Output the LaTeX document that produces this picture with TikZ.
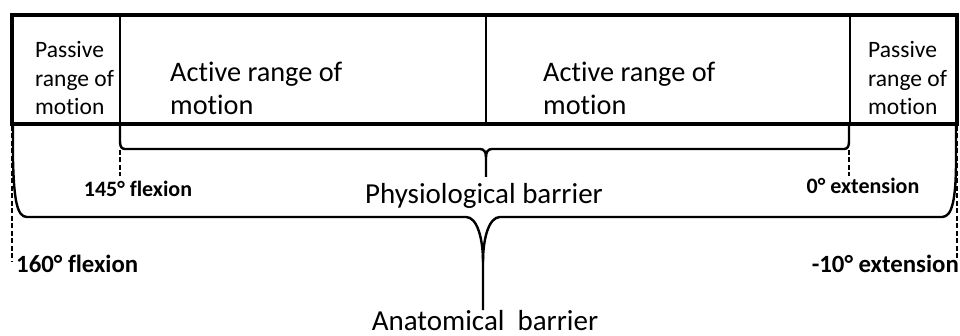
\documentclass[tikz,border=0pt]{standalone}
\usepackage{fontspec}
\setmainfont[Ligatures=NoCommon]{Carlito}
\begin{document}
\begin{tikzpicture}[x=1pt,y=-1pt,
  boxline/.style={line width=4pt},
  divline/.style={line width=2pt},
  braceline/.style={line width=2.4pt, line join=round},
  dashline/.style={line width=2.2pt, dash pattern=on 5pt off 2.5pt},
  passtxt/.style={inner sep=0pt, align=left, font={\fontsize{23.5}{28.85}\selectfont}},
  acttxt/.style={inner sep=0pt, align=left, font={\fontsize{28.3}{33}\selectfont}},
  smalllab/.style={inner sep=0pt, font={\fontsize{22}{26}\selectfont\bfseries}},
  biglab/.style={inner sep=0pt, font={\fontsize{24.8}{28}\selectfont\bfseries}},
  barlab/.style={inner sep=0pt, font={\fontsize{29}{34}\selectfont}}]
\useasboundingbox (0,0) rectangle (960,336);
% box corners and dividers
\coordinate (tl) at (12,15);
\coordinate (br) at (957,124);
\coordinate (d1t) at (120,15);  \coordinate (d1b) at (120,124);
\coordinate (d2t) at (486,15);  \coordinate (d2b) at (486,124);
\coordinate (d3t) at (850,15);  \coordinate (d3b) at (850,124);
\draw[divline] (d1t) -- (d1b);
\draw[divline] (d2t) -- (d2b);
\draw[divline] (d3t) -- (d3b);
\draw[boxline] (tl) rectangle (br);
% cell texts (base anchor = last line baseline)
\node[passtxt, anchor=base west] (pl) at (35,115) {Passive\\range of\\motion};
\node[acttxt, anchor=base west] (al) at (170,115) {Active range of\\motion};
\node[acttxt, anchor=base west] (ar) at (543,115) {Active range of\\motion};
\node[passtxt, anchor=base west] (pr) at (868,115) {Passive\\range of\\motion};
% upper brace (physiological)
\coordinate (ub1) at (120,124);
\coordinate (ubtip) at (486,157);
\coordinate (ubstem) at (486,177);
\coordinate (ub2) at (849,124);
\draw[braceline] (ub1) -- (120,141) .. controls (120,146) and (121,149) .. (125,149)
  -- (480,149) .. controls (484,149) and (486,152) .. (ubtip) -- (ubstem);
\draw[braceline] (ubtip) .. controls (486,152) and (488,149) .. (492,149)
  -- (844,149) .. controls (848,149) and (849,146) .. (849,141) -- (ub2);
% lower brace (anatomical)
\coordinate (lb1) at (13,124);
\coordinate (lbtip) at (483,262);
\coordinate (lbstem) at (483,310);
\coordinate (lb2) at (956,124);
\draw[braceline] (lb1) -- (13,160) .. controls (14,200) and (17,217) .. (27,217)
  -- (466,217) .. controls (477,217) and (483,238) .. (lbtip) -- (lbstem);
\draw[braceline] (lbtip) .. controls (483,238) and (489,217) .. (500,217)
  -- (942,217) .. controls (952,217) and (956,200) .. (956,160) -- (lb2);
% dashed markers
\coordinate (m145a) at (120,150); \coordinate (m145b) at (120,176);
\coordinate (m0a) at (849,150);   \coordinate (m0b) at (849,176);
\coordinate (m160a) at (12,126);  \coordinate (m160b) at (12,262);
\coordinate (m10a) at (957,126);  \coordinate (m10b) at (957,258);
\draw[dashline] (m145a) -- (m145b);
\draw[dashline] (m0a) -- (m0b);
\draw[dashline] (m160a) -- (m160b);
\draw[dashline] (m10a) -- (m10b);
% labels
\node[smalllab, anchor=base] (f145) at (138,197) {145° flexion};
\node[smalllab, anchor=base] (e0) at (863,194) {0° extension};
\node[biglab, anchor=base west] (f160) at (16,272.5) {160° flexion};
\node[biglab, anchor=base east] (e10) at (959,273) {-10° extension};
\node[barlab, anchor=base] (phys) at (484,204) {Physiological barrier};
\node[barlab, anchor=base] (anat) at (485,330) {Anatomical\ \ barrier};
\end{tikzpicture}
\end{document}
